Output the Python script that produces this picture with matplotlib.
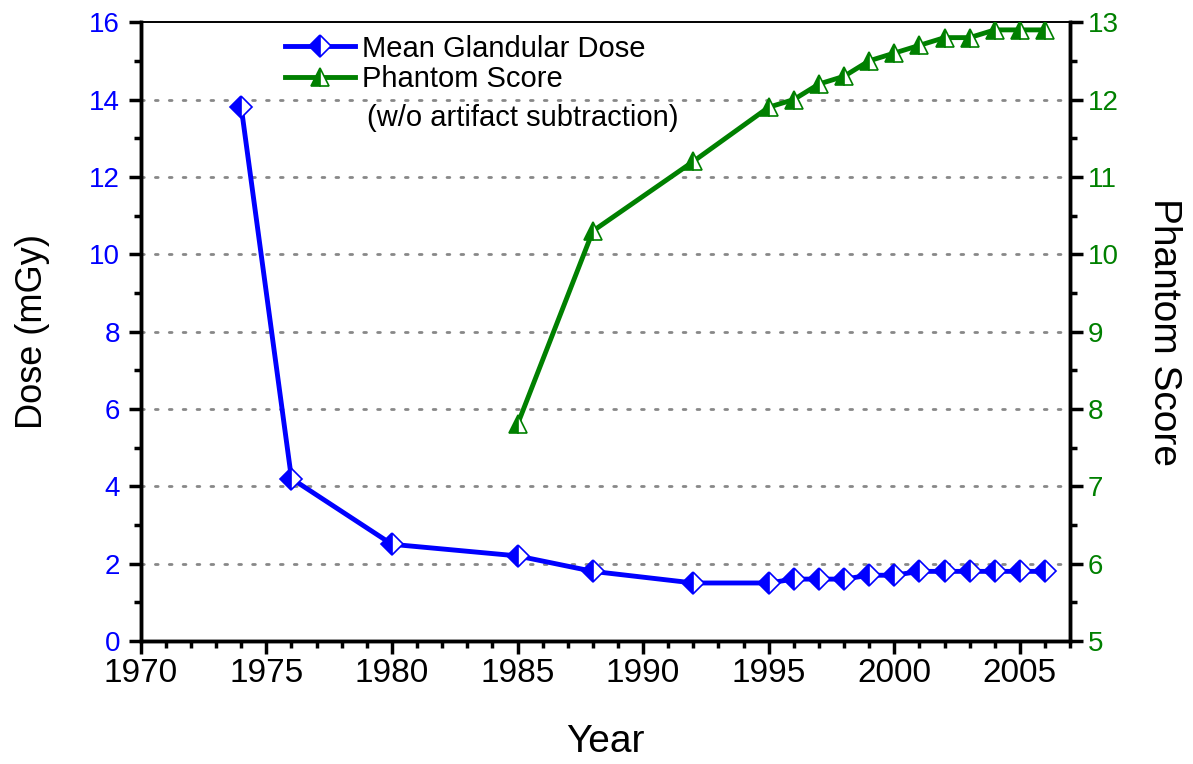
import matplotlib.pyplot as plt
from matplotlib.ticker import MultipleLocator

plt.rcParams['font.family'] = ['Liberation Sans', 'DejaVu Sans']

# data
dose_years = [1974, 1976, 1980, 1985, 1988, 1992, 1995, 1996, 1997, 1998,
              1999, 2000, 2001, 2002, 2003, 2004, 2005, 2006]
dose = [13.8, 4.2, 2.5, 2.2, 1.8, 1.5, 1.5, 1.6, 1.6, 1.6,
        1.7, 1.7, 1.8, 1.8, 1.8, 1.8, 1.8, 1.8]

score_years = [1985, 1988, 1992, 1995, 1996, 1997, 1998, 1999, 2000,
               2001, 2002, 2003, 2004, 2005, 2006]
score = [7.8, 10.3, 11.2, 11.9, 12.0, 12.2, 12.3, 12.5, 12.6,
         12.7, 12.8, 12.8, 12.9, 12.9, 12.9]

blue = '#0000ff'
green = '#008000'

fig = plt.figure(figsize=(11.93, 7.64), dpi=100)
ax = fig.add_axes([0.118, 0.161, 0.779, 0.810])
ax2 = ax.twinx()

l1, = ax.plot(dose_years, dose, color=blue, lw=3.5, marker='D', ms=11.5,
              fillstyle='left', markerfacecolor=blue, markerfacecoloralt='white',
              markeredgecolor=blue, markeredgewidth=1.2, zorder=5,
              label='Mean Glandular Dose')
l2, = ax2.plot(score_years, score, color=green, lw=3.5, marker='^', ms=13,
               fillstyle='left', markerfacecolor=green, markerfacecoloralt='white',
               markeredgecolor=green, markeredgewidth=1.2, zorder=5,
               label='Phantom Score')

ax.set_xlim(1970, 2007)
ax.set_ylim(0, 16)
ax2.set_ylim(5, 13)

ax.xaxis.set_major_locator(MultipleLocator(5))
ax.xaxis.set_minor_locator(MultipleLocator(1))
ax.yaxis.set_major_locator(MultipleLocator(2))
ax.yaxis.set_minor_locator(MultipleLocator(1))
ax2.yaxis.set_major_locator(MultipleLocator(1))
ax2.yaxis.set_minor_locator(MultipleLocator(0.5))

for y in range(2, 16, 2):
    ax.axhline(y, color='#888888', lw=2, ls=(0, (1, 4)), dash_capstyle='round', zorder=1)

ax.tick_params(axis='both', which='major', direction='out', length=9, width=2.5)
ax.tick_params(axis='both', which='minor', direction='out', length=5, width=2.5)
ax.tick_params(axis='x', labelsize=24)
ax.tick_params(axis='y', labelsize=20, labelcolor=blue, pad=6)
ax2.tick_params(axis='y', which='major', direction='out', length=9, width=2.5,
                labelsize=20, labelcolor=green)
ax2.tick_params(axis='y', which='minor', direction='out', length=5, width=2.5)

for a in (ax, ax2):
    for s in ('left', 'right', 'bottom'):
        a.spines[s].set_linewidth(2.5)
    a.spines['top'].set_linewidth(1.2)

ax.set_xlabel('Year', fontsize=28, labelpad=25)
ax.set_ylabel('Dose (mGy)', fontsize=26, labelpad=28)
ax2.set_ylabel('Phantom Score', fontsize=28, rotation=-90, labelpad=46)

ax.legend(handles=[l1, l2], loc='upper left', bbox_to_anchor=(0.155, 0.98),
          frameon=False, fontsize=21, numpoints=1, handlelength=2.4,
          handletextpad=0.25, labelspacing=0.1, borderpad=0, borderaxespad=0)
ax.text(0.243, 0.845, '(w/o artifact subtraction)', transform=ax.transAxes,
        fontsize=21, va='center', ha='left')

fig.savefig('out.png', dpi=100)
